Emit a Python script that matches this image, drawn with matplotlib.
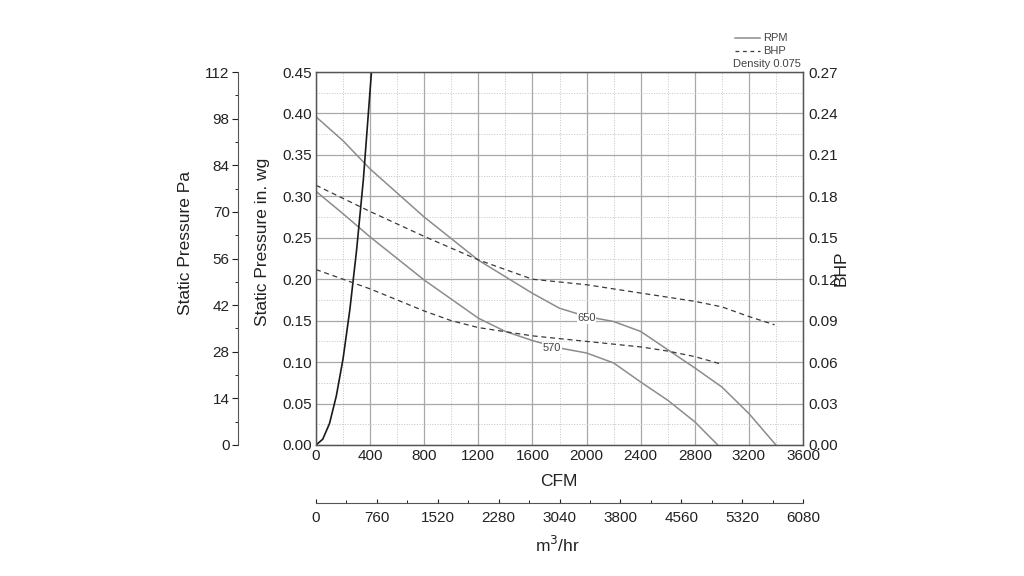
import matplotlib.pyplot as plt
from matplotlib.lines import Line2D
from matplotlib.ticker import MultipleLocator

plt.rcParams['font.family'] = ['Liberation Sans', 'DejaVu Sans']

# fan curve at 650 rpm (CFM, in. wg)
cfm_650 = [0, 200, 400, 800, 1200, 1600, 1800, 2000, 2200, 2400, 2600, 2800, 3000, 3200, 3400]
sp_650 = [0.396, 0.367, 0.333, 0.275, 0.223, 0.183, 0.165, 0.155, 0.149, 0.137, 0.115, 0.093, 0.070, 0.038, 0.0]

# fan curve at 570 rpm
cfm_570 = [0, 200, 400, 800, 1200, 1400, 1600, 1800, 2000, 2200, 2400, 2600, 2800, 2970]
sp_570 = [0.306, 0.279, 0.251, 0.199, 0.153, 0.137, 0.126, 0.117, 0.111, 0.099, 0.076, 0.054, 0.028, 0.0]

# brake horsepower curves
cfm_bhp_650 = [0, 400, 800, 1200, 1400, 1600, 1800, 2000, 2400, 2800, 3000, 3200, 3390]
bhp_650 = [0.188, 0.169, 0.151, 0.134, 0.127, 0.120, 0.118, 0.116, 0.110, 0.104, 0.100, 0.093, 0.087]
cfm_bhp_570 = [0, 200, 400, 800, 1000, 1200, 1600, 2000, 2400, 2600, 2800, 2980]
bhp_570 = [0.127, 0.120, 0.113, 0.097, 0.090, 0.085, 0.079, 0.075, 0.071, 0.068, 0.064, 0.059]

# system resistance curve
cfm_sys = [0, 50, 100, 150, 200, 250, 300, 350, 410]
sp_sys = [0, 0.007, 0.026, 0.059, 0.104, 0.163, 0.235, 0.320, 0.450]

cfm_ticks = [0, 400, 800, 1200, 1600, 2000, 2400, 2800, 3200, 3600]
wg_ticks = [0.0, 0.05, 0.10, 0.15, 0.20, 0.25, 0.30, 0.35, 0.40, 0.45]
bhp_ticks = [0.0, 0.03, 0.06, 0.09, 0.12, 0.15, 0.18, 0.21, 0.24, 0.27]
pa_ticks = [0, 14, 28, 42, 56, 70, 84, 98, 112]
m3h_ticks = [0, 760, 1520, 2280, 3040, 3800, 4560, 5320, 6080]

pa_per_wg = 112 / 0.45
m3h_per_cfm = 6080 / 3600

rpm_col = '#8c8c8c'
bhp_col = '#3a3a3a'
spine_col = '#555555'

fig = plt.figure(figsize=(10.24, 5.76), dpi=100)
ax = fig.add_axes([316/1024, 1 - 445/576, 487/1024, 373/576])

ax.plot(cfm_650, sp_650, color=rpm_col, lw=1.1)
ax.plot(cfm_570, sp_570, color=rpm_col, lw=1.1)
ax.plot(cfm_sys, sp_sys, color='#1a1a1a', lw=1.2)

ax.text(2000, 0.153, '650', fontsize=8, color='#444444', ha='center', va='center',
        bbox=dict(facecolor='white', edgecolor='none', pad=0.5))
ax.text(1745, 0.117, '570', fontsize=8, color='#444444', ha='center', va='center',
        bbox=dict(facecolor='white', edgecolor='none', pad=0.5))

ax.set_xlim(0, 3600)
ax.set_ylim(0, 0.45)
ax.set_xticks(cfm_ticks)
ax.set_yticks(wg_ticks)
ax.set_yticklabels(['%.2f' % v for v in wg_ticks])
ax.xaxis.set_minor_locator(MultipleLocator(200))
ax.yaxis.set_minor_locator(MultipleLocator(0.025))
ax.grid(which='major', color='#a8a8a8', lw=0.9, ls='-')
ax.grid(which='minor', color='#c4c4c4', lw=0.7, ls=':')
ax.tick_params(which='both', length=0, labelsize=11, pad=3, colors='#222222')
for s in ax.spines.values():
    s.set_color(spine_col)
    s.set_linewidth(0.9)

ax2 = ax.twinx()
ax2.plot(cfm_bhp_650, bhp_650, color=bhp_col, lw=0.9, dashes=(4, 3))
ax2.plot(cfm_bhp_570, bhp_570, color=bhp_col, lw=0.9, dashes=(4, 3))
ax2.set_ylim(0, 0.27)
ax2.set_yticks(bhp_ticks)
ax2.set_yticklabels(['%.2f' % v for v in bhp_ticks])
ax2.tick_params(length=0, labelsize=11, pad=4, colors='#222222')
for s in ax2.spines.values():
    s.set_color(spine_col)
    s.set_linewidth(0.9)

# Pa axis on the far left
pa = ax.secondary_yaxis((238 - 316) / 487, functions=(lambda v: v * pa_per_wg, lambda v: v / pa_per_wg))
pa.set_yticks(pa_ticks)
pa.yaxis.set_minor_locator(MultipleLocator(7))
pa.tick_params(which='major', length=4, labelsize=11, pad=2, colors='#222222')
pa.tick_params(which='minor', length=2)
pa.spines['left'].set_color(spine_col)

# m3/hr axis below
m3 = ax.secondary_xaxis((445 - 503) / 373, functions=(lambda v: v * m3h_per_cfm, lambda v: v / m3h_per_cfm))
m3.set_xticks(m3h_ticks)
m3.xaxis.set_minor_locator(MultipleLocator(380))
m3.tick_params(which='major', direction='in', length=3, labelsize=11, pad=6, colors='#222222')
m3.tick_params(which='minor', direction='in', length=2)
m3.spines['bottom'].set_color(spine_col)

# axis titles
fig.text(186/1024, 1 - 243/576, 'Static Pressure Pa', rotation=90, fontsize=12.5,
         ha='center', va='center', color='#222222')
fig.text(263/1024, 1 - 242/576, 'Static Pressure in. wg', rotation=90, fontsize=12.5,
         ha='center', va='center', color='#222222')
fig.text(841/1024, 1 - 268/576, 'BHP', rotation=90, fontsize=12.5,
         ha='center', va='center', color='#222222')
fig.text(559/1024, 1 - 482/576, 'CFM', fontsize=12.5, ha='center', va='center', color='#222222')
fig.text(557/1024, 1 - 545/576, 'm$^3$/hr', fontsize=12.5, ha='center', va='center', color='#222222')

# legend block
fig.add_artist(Line2D([735/1024, 760/1024], [1 - 38/576, 1 - 38/576], color=rpm_col, lw=1.1))
fig.add_artist(Line2D([735/1024, 760/1024], [1 - 51/576, 1 - 51/576], color=bhp_col, lw=0.9, dashes=(3, 3)))
fig.text(763/1024, 1 - 38/576, 'RPM', fontsize=8, va='center', color='#444444')
fig.text(763/1024, 1 - 51/576, 'BHP', fontsize=8, va='center', color='#444444')
fig.text(801/1024, 1 - 64/576, 'Density 0.075', fontsize=8, ha='right', va='center', color='#444444')

fig.savefig('out.png', dpi=100, facecolor='white')
